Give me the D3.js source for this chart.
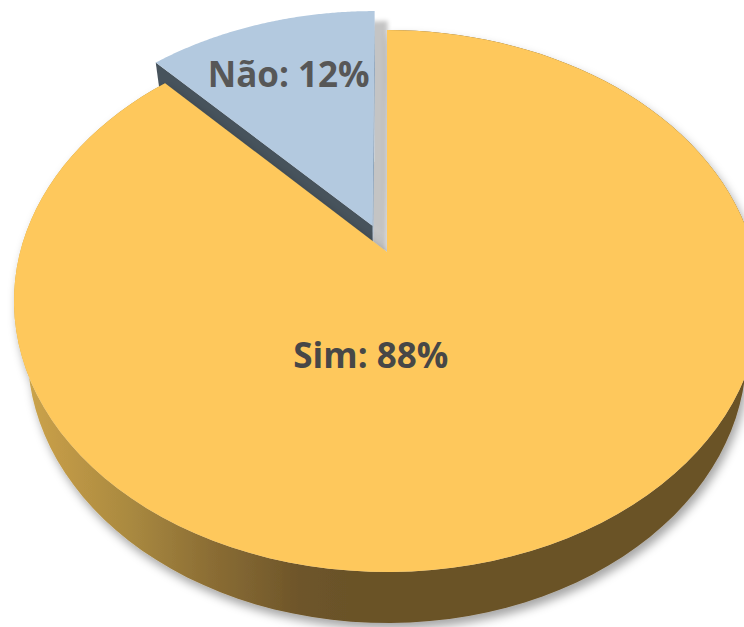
<!DOCTYPE html>
<html>
<head>
<meta charset="utf-8">
<script src="https://cdn.jsdelivr.net/npm/d3@7"></script>
<style>
  html, body { margin: 0; padding: 0; background: #fff; overflow: hidden; }
</style>
</head>
<body>
<div id="chart"></div>
<script>
// données
const categories = ["Sim", "Não"];
const values = [88, 12];
const topColors = ["#fec85b", "#b3c9df"];
const cutColors = ["#6a5228", "#46525c"];
const explode = [0, 0.11];

const width = 744, height = 627;

// caméra (perspective du camembert 3D)
const cx = 387, cy = 252;
const fx = 1450, fy = 1480.6, dist = 3.952;
const tilt = 44.4 * Math.PI / 180;
const sa = Math.sin(tilt), ca = Math.cos(tilt);
const thickness = 0.207;

function project(X, Z, Y) {
    const zc = dist - Y * sa - Z * ca;
    const yc = Z * sa - Y * ca;
    return [cx + fx * X / zc, cy + fy * yc / zc];
}

const pie = d3.pie().sort(null).value(d => d)(values);

const svg = d3.select("#chart").append("svg")
    .attr("width", width)
    .attr("height", height)
    .attr("viewBox", [0, 0, width, height]);

const defs = svg.append("defs");

const grad = defs.append("linearGradient")
    .attr("id", "sideGrad")
    .attr("gradientUnits", "userSpaceOnUse")
    .attr("x1", 14).attr("x2", 744).attr("y1", 0).attr("y2", 0);
[[0, "#cfa84d"], [0.06, "#c29a46"], [0.16, "#a98940"], [0.27, "#8b6d34"],
 [0.32, "#7f6430"], [0.39, "#6e552a"], [0.46, "#6a5228"], [1, "#6a5228"]]
    .forEach(([o, c]) => grad.append("stop").attr("offset", o).attr("stop-color", c));

function shadow(id, dx, dy, sd, op) {
    defs.append("filter")
        .attr("id", id)
        .attr("x", "-20%").attr("y", "-20%")
        .attr("width", "140%").attr("height", "140%")
        .append("feDropShadow")
        .attr("dx", dx).attr("dy", dy)
        .attr("stdDeviation", sd)
        .attr("flood-color", "#000")
        .attr("flood-opacity", op);
}
shadow("shadowBlue", 13, 10, 2, 0.23);
shadow("shadowMain", 3, 6, 5, 0.35);

const line = d3.line();

function slicePaths(p, i) {
    const mid = (p.startAngle + p.endAngle) / 2;
    const ox = explode[i] * Math.sin(mid), oz = -explode[i] * Math.cos(mid);
    const pt = (a, r, Y) => project(ox + r * Math.sin(a), oz - r * Math.cos(a), Y);
    const steps = d3.range(0, 121).map(k => p.startAngle + (p.endAngle - p.startAngle) * k / 120);
    const topArc = steps.map(a => pt(a, 1, 0));
    const botArc = steps.map(a => pt(a, 1, -thickness)).reverse();
    const apex = pt(0, 0, 0), apexB = pt(0, 0, -thickness);
    const cut = a => [apex, pt(a, 1, 0), pt(a, 1, -thickness), apexB];
    return {
        top: line([apex, ...topArc]) + "Z",
        side: line([...topArc, ...botArc]) + "Z",
        cutStart: line(cut(p.startAngle)) + "Z",
        cutEnd: line(cut(p.endAngle)) + "Z",
        label: (r) => pt(mid, r, 0)
    };
}

const shapes = pie.map(slicePaths);

// tranche "Não" (arrière, détachée)
const gBlue = svg.append("g").attr("filter", "url(#shadowBlue)");
gBlue.append("path").attr("d", shapes[1].cutEnd).attr("fill", "#8fa6bd");
gBlue.append("path").attr("d", shapes[1].cutStart).attr("fill", cutColors[1]);
gBlue.append("path").attr("d", shapes[1].top).attr("fill", topColors[1]);

// tranche "Sim"
const gMain = svg.append("g").attr("filter", "url(#shadowMain)");
gMain.append("path").attr("d", shapes[0].side).attr("fill", "url(#sideGrad)");
gMain.append("path").attr("d", shapes[0].top).attr("fill", topColors[0]);

// étiquettes
const labelR = [0.38, 0.7];
const labelNudge = [[-71, 17], [-2, 9]];
const labelFill = ["#474747", "#575757"];

pie.forEach((p, i) => {
    const [x, y] = shapes[i].label(labelR[i]);
    svg.append("text")
        .attr("x", x + labelNudge[i][0])
        .attr("y", y + labelNudge[i][1])
        .attr("text-anchor", "middle")
        .attr("font-family", "'Open Sans', sans-serif")
        .attr("font-weight", "bold")
        .attr("font-size", "35px")
        .attr("fill", labelFill[i])
        .text(`${categories[i]}: ${values[i]}%`);
});
</script>
</body>
</html>
